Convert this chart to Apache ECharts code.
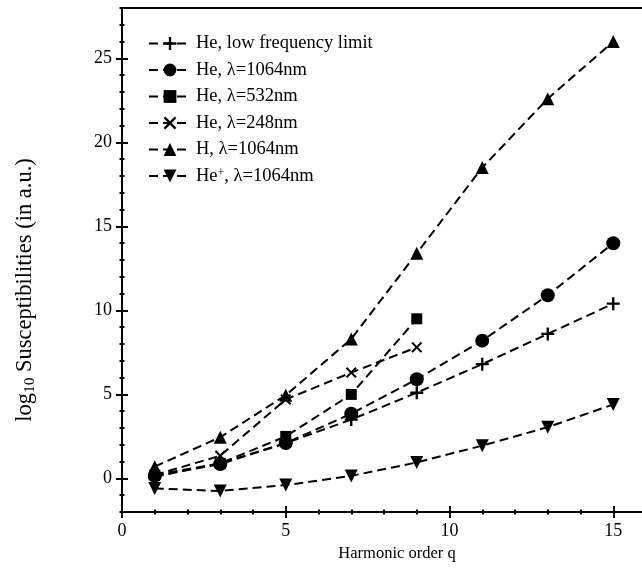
<!DOCTYPE html>
<html>
<head>
<meta charset="utf-8">
<script src="https://cdn.jsdelivr.net/npm/echarts@6/dist/echarts.min.js"></script>
<style>html,body{margin:0;padding:0;background:#fff}#c{width:642px;height:579px}</style>
</head>
<body>
<div id="c"></div>
<script>
// ---- data ----
const harmonicOrders = [1, 3, 5, 7, 9, 11, 13, 15];
const heLowFreq  = [0.1, 0.9, 2.1, 3.5, 5.1, 6.8, 8.6, 10.4];
const he1064     = [0.15, 0.85, 2.1, 3.85, 5.9, 8.2, 10.9, 14.0];
const he532      = [0.2, 0.9, 2.5, 5.0, 9.5];
const he248      = [0.2, 1.35, 4.7, 6.3, 7.8];
const h1064      = [0.7, 2.45, 4.95, 8.3, 13.4, 18.5, 22.6, 26.0];
const hePlus1064 = [-0.6, -0.75, -0.4, 0.15, 0.95, 1.95, 3.05, 4.4];
const seriesNames = ['He, low frequency limit', 'He, λ=1064nm', 'He, λ=532nm', 'He, λ=248nm', 'H, λ=1064nm', 'He+, λ=1064nm'];
const xTickLabels = [0, 5, 10, 15];
const yTickLabels = [0, 5, 10, 15, 20, 25];

// ---- layout ----
const FONT = 'Liberation Serif';
const X_MIN = 0, X_MAX = 16, Y_MIN = -2, Y_MAX = 28;
const G = {left: 122, top: 8, width: 524, height: 504};
const pxPerY = G.height / (Y_MAX - Y_MIN);
const majorTop = G.top + (Y_MAX - 25) * pxPerY;
const majorHeight = 25 * pxPerY;

function pairs(ys) { return ys.map((v, i) => [harmonicOrders[i], v]); }

const PLUS = 'path://M4.1,0H5.9V4.1H10V5.9H5.9V10H4.1V5.9H0V4.1H4.1Z';
const CROSS = 'path://M0,1.3L1.3,0L5,3.7L8.7,0L10,1.3L6.3,5L10,8.7L8.7,10L5,6.3L1.3,10L0,8.7L3.7,5Z';
const DOWN = 'path://M0,0H10L5,9Z';

const lineStyle = {color: '#000', width: 2, type: [9, 5]};
function mk(name, ys, symbol, size) {
  return {
    type: 'line', name: name, data: pairs(ys), xAxisIndex: 0, yAxisIndex: 0,
    symbol: symbol, symbolSize: size, showSymbol: true,
    lineStyle: lineStyle, itemStyle: {color: '#000'}, z: 3
  };
}

const lblX = v => xTickLabels.indexOf(v) >= 0 ? String(v) : '';
const lblY = v => yTickLabels.indexOf(v) >= 0 ? String(v) : '';

const axisLine = {show: true, onZero: false, lineStyle: {color: '#000', width: 2}};
const noLine = {show: false, onZero: false};
const tickStyle = {color: '#000', width: 2};

function tickAxis(extra) {
  return Object.assign({type: 'value', axisLine: noLine, splitLine: {show: false}, axisLabel: {show: false}}, extra);
}

const option = {
  animation: false,
  backgroundColor: '#fff',
  grid: [
    {left: G.left, top: G.top, width: G.width, height: G.height, outerBoundsMode: 'none', containLabel: false},
    {left: G.left, top: majorTop, width: G.width, height: majorHeight, outerBoundsMode: 'none', containLabel: false}
  ],
  legend: {
    orient: 'vertical', left: 143, top: 29, itemWidth: 42, itemHeight: 16, itemGap: 7.5,
    data: seriesNames,
    textStyle: {fontFamily: FONT, fontSize: 18.5, color: '#000',
      rich: {n: {fontFamily: FONT, fontSize: 18.5, color: '#000'},
             sup: {fontFamily: FONT, fontSize: 12, color: '#000', padding: [0, 0, 7, 0]}}},
    formatter: function (name) {
      if (name === 'He+, λ=1064nm') return '{n|He}{sup|+}{n|, λ=1064nm}';
      return name;
    }
  },
  xAxis: [
    {type: 'value', gridIndex: 0, position: 'bottom', min: X_MIN, max: X_MAX, interval: 1,
     axisLine: axisLine, splitLine: {show: false},
     axisTick: {show: true, inside: true, length: 2.5, lineStyle: tickStyle},
     axisLabel: {formatter: lblX, margin: 10, fontFamily: FONT, fontSize: 18, color: '#000'},
     name: 'Harmonic order q', nameLocation: 'middle', nameGap: 31,
     nameTextStyle: {fontFamily: FONT, fontSize: 16.5, color: '#000', padding: [0, 0, 0, 26]}},
    tickAxis({gridIndex: 0, position: 'bottom', min: X_MIN, max: X_MAX, interval: 1,
     axisTick: {show: true, inside: false, length: 2.5, lineStyle: tickStyle}}),
    tickAxis({gridIndex: 0, position: 'bottom', min: X_MIN, max: X_MAX, interval: 5,
     axisTick: {show: true, inside: true, length: 6, lineStyle: tickStyle}}),
    tickAxis({gridIndex: 0, position: 'bottom', min: X_MIN, max: X_MAX, interval: 5,
     axisTick: {show: true, inside: false, length: 6, lineStyle: tickStyle}}),
    {type: 'value', gridIndex: 0, position: 'top', min: X_MIN, max: X_MAX,
     axisLine: axisLine, splitLine: {show: false}, axisTick: {show: false}, axisLabel: {show: false}},
    {type: 'value', gridIndex: 1, min: X_MIN, max: X_MAX, show: false}
  ],
  yAxis: [
    {type: 'value', gridIndex: 0, position: 'left', min: Y_MIN, max: Y_MAX, interval: 1,
     axisLine: axisLine, splitLine: {show: false},
     axisTick: {show: true, inside: true, length: 2.5, lineStyle: tickStyle},
     axisLabel: {formatter: lblY, margin: 10, fontFamily: FONT, fontSize: 18, color: '#000'},
     name: '{a|log}{s|10}{a| Susceptibilities (in a.u.)}', nameLocation: 'middle', nameGap: 84,
     nameTextStyle: {fontFamily: FONT, fontSize: 22.5, color: '#000', padding: [0, 60, 0, 0],
       rich: {a: {fontFamily: FONT, fontSize: 22.5, color: '#000'},
              s: {fontFamily: FONT, fontSize: 15.5, color: '#000', padding: [10, 0, 0, 0]}}}},
    tickAxis({gridIndex: 0, position: 'left', min: Y_MIN, max: Y_MAX, interval: 1,
     axisTick: {show: true, inside: false, length: 2.5, lineStyle: tickStyle}}),
    tickAxis({gridIndex: 1, position: 'left', min: 0, max: 25, interval: 5,
     axisTick: {show: true, inside: true, length: 6, lineStyle: tickStyle}}),
    tickAxis({gridIndex: 1, position: 'left', min: 0, max: 25, interval: 5,
     axisTick: {show: true, inside: false, length: 6, lineStyle: tickStyle}})
  ],
  series: [
    mk(seriesNames[0], heLowFreq, PLUS, 13),
    mk(seriesNames[1], he1064, 'circle', 14),
    mk(seriesNames[2], he532, 'rect', 11),
    mk(seriesNames[3], he248, CROSS, 11),
    mk(seriesNames[4], h1064, 'triangle', 13),
    mk(seriesNames[5], hePlus1064, DOWN, 13)
  ]
};
echarts.init(document.getElementById('c'), null, {renderer: 'canvas'}).setOption(option);
</script>
</body>
</html>
